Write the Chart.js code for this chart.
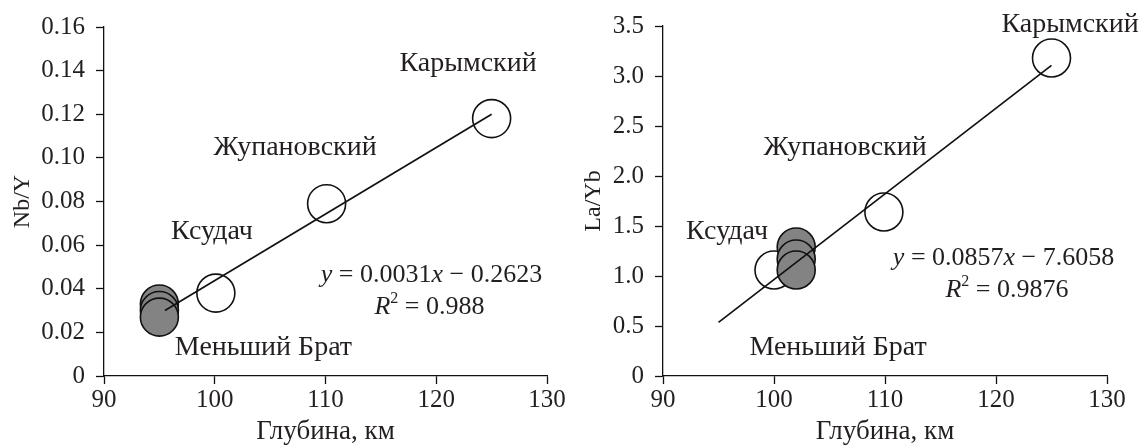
<!DOCTYPE html>
<html><head><meta charset="utf-8">
<script src="https://cdn.jsdelivr.net/npm/chart.js@4/dist/chart.umd.min.js"></script>
<style>
html,body{margin:0;padding:0;background:#fff;}
#wrap{position:relative;width:1143px;height:448px;}
#c1{position:absolute;left:0;top:0;}
#c2{position:absolute;left:571px;top:0;}
</style></head>
<body><div id="wrap"><canvas id="c1" width="571" height="448"></canvas><canvas id="c2" width="572" height="448"></canvas></div>
<script>
// ---- data ----
const xTicks = [90, 100, 110, 120, 130];
const nbYTicks = [0, 0.02, 0.04, 0.06, 0.08, 0.10, 0.12, 0.14, 0.16];
const laYbTicks = [0, 0.5, 1.0, 1.5, 2.0, 2.5, 3.0, 3.5];

const volcanoes = ['Карымский', 'Жупановский', 'Ксудач', 'Меньший Брат'];

// Nb/Y panel
const nbOpenDepth = [125, 110.1, 100.1];
const nbOpenValue = [0.118, 0.079, 0.038];
const nbFilledDepth = [95, 95, 95];
const nbFilledValue = [0.033, 0.030, 0.027];
const nbTrendDepth = [95.5, 125];
const nbTrendValue = [0.030, 0.120];

// La/Yb panel
const laOpenDepth = [125, 109.9, 100];
const laOpenValue = [3.18, 1.64, 1.06];
const laFilledDepth = [102, 102, 102];
const laFilledValue = [1.29, 1.17, 1.06];
const laTrendDepth = [95, 125];
const laTrendValue = [0.536, 3.107];

const eqLeft = {slope: '0.0031', icpt: '0.2623', r2: '0.988'};
const eqRight = {slope: '0.0857', icpt: '7.6058', r2: '0.9876'};

// ---- helpers ----
const FONT = '"Liberation Serif", "Times New Roman", serif';
const TICK_FS = 25;
const LABEL_FS = 28;
const EQ_FS = 26;
const INK = '#231f20';
const pts = (xs, ys) => xs.map((x, i) => ({x, y: ys[i]}));

const labelPlugin = {
  id: 'labels',
  afterDatasetsDraw(chart, args, opts) {
    const ctx = chart.ctx, xs = chart.scales.x, ys = chart.scales.y;
    ctx.save();
    ctx.fillStyle = INK;
    ctx.textBaseline = 'middle';
    ctx.textAlign = 'center';
    ctx.font = LABEL_FS + 'px ' + FONT;
    (opts.items || []).forEach(it => {
      ctx.fillText(it.text, xs.getPixelForValue(it.x), ys.getPixelForValue(it.y));
    });
    const e = opts.eq;
    if (e) {
      const drawRuns = (runs, cx, cy) => {
        let w = 0;
        runs.forEach(r => { ctx.font = (r[1] ? 'italic ' : '') + (r[2] || EQ_FS) + 'px ' + FONT; w += ctx.measureText(r[0]).width; });
        let x = cx - w / 2;
        ctx.textAlign = 'left';
        runs.forEach(r => {
          ctx.font = (r[1] ? 'italic ' : '') + (r[2] || EQ_FS) + 'px ' + FONT;
          ctx.fillText(r[0], x, cy + (r[3] || 0));
          x += ctx.measureText(r[0]).width;
        });
      };
      drawRuns([['y', true], [' = ' + e.slope, false], ['x', true], [' \u2212 ' + e.icpt, false]],
        xs.getPixelForValue(e.x), ys.getPixelForValue(e.y1));
      drawRuns([['R', true], ['2', false, 16, -8], [' = ' + e.r2, false]],
        xs.getPixelForValue(e.x2), ys.getPixelForValue(e.y2));
    }
    ctx.restore();
  }
};

function makeChart(id, cfg) {
  return new Chart(document.getElementById(id), {
    type: 'scatter',
    data: {
      datasets: [
        {data: pts(cfg.trendX, cfg.trendY), showLine: true, borderColor: '#111', borderWidth: 1.7,
         pointRadius: 0, pointHoverRadius: 0, order: 0},
        {data: pts(cfg.openX, cfg.openY), pointRadius: 19, pointHoverRadius: 19, backgroundColor: '#ffffff',
         borderColor: '#111', pointBorderWidth: 1.6, order: 2},
        {data: pts(cfg.fillX, cfg.fillY), pointRadius: 19, pointHoverRadius: 19, backgroundColor: '#838383',
         borderColor: '#111', pointBorderWidth: 1.6, order: 1}
      ]
    },
    options: {
      responsive: false, animation: false, events: [],
      layout: {padding: {left: 0, right: cfg.padRight, top: cfg.padTop, bottom: 0}},
      plugins: {legend: {display: false}, tooltip: {enabled: false},
        labels: {items: cfg.labels, eq: cfg.eq}},
      scales: {
        x: {
          type: 'linear', min: xTicks[0], max: xTicks[xTicks.length - 1],
          afterBuildTicks: s => { s.ticks = xTicks.map(v => ({value: v})); },
          afterFit: s => { s.height = 72; },
          grid: {drawOnChartArea: false, tickLength: 8, color: '#111', tickWidth: 1.3},
          border: {color: '#111', width: 1.3},
          ticks: {color: INK, font: {family: FONT, size: TICK_FS}, padding: 1, callback: v => String(v)},
          title: {display: true, text: 'Глубина, км', color: INK, font: {family: FONT, size: 27}, padding: {top: 0, bottom: 0}}
        },
        y: {
          type: 'linear', min: cfg.yTicks[0], max: cfg.yTicks[cfg.yTicks.length - 1],
          afterBuildTicks: s => { s.ticks = cfg.yTicks.map(v => ({value: v})); },
          afterFit: s => { s.width = cfg.yWidth; },
          grid: {drawOnChartArea: false, tickLength: 8, color: '#111', tickWidth: 1.3},
          border: {color: '#111', width: 1.3},
          ticks: {color: INK, font: {family: FONT, size: TICK_FS}, padding: 11,
            callback: v => v === 0 ? '0' : v.toFixed(cfg.dec)},
          title: {display: true, text: cfg.yTitle, color: INK, font: {family: FONT, size: 24}, padding: {top: 8, bottom: 0}}
        }
      }
    },
    plugins: [labelPlugin]
  });
}

makeChart('c1', {
  trendX: nbTrendDepth, trendY: nbTrendValue, openX: nbOpenDepth, openY: nbOpenValue,
  fillX: nbFilledDepth, fillY: nbFilledValue, yTicks: nbYTicks, dec: 2, yTitle: 'Nb/Y',
  yWidth: 104, padRight: 24, padTop: 27,
  labels: [
    {text: volcanoes[0], x: 122.87, y: 0.143},
    {text: volcanoes[1], x: 107.25, y: 0.1045},
    {text: volcanoes[2], x: 99.75, y: 0.066},
    {text: volcanoes[3], x: 104.4, y: 0.0128}
  ],
  eq: {x: 119.57, y1: 0.0463, x2: 119.39, y2: 0.0316, ...eqLeft}
});

makeChart('c2', {
  trendX: laTrendDepth, trendY: laTrendValue, openX: laOpenDepth, openY: laOpenValue,
  fillX: laFilledDepth, fillY: laFilledValue, yTicks: laYbTicks, dec: 1, yTitle: 'La/Yb',
  yWidth: 92, padRight: 36, padTop: 26,
  labels: [
    {text: volcanoes[0], x: 126.67, y: 3.51},
    {text: volcanoes[1], x: 106.4, y: 2.28},
    {text: volcanoes[2], x: 95.77, y: 1.44},
    {text: volcanoes[3], x: 105.77, y: 0.28}
  ],
  eq: {x: 120.68, y1: 1.18, x2: 120.99, y2: 0.86, ...eqRight}
});
</script>
</body></html>
